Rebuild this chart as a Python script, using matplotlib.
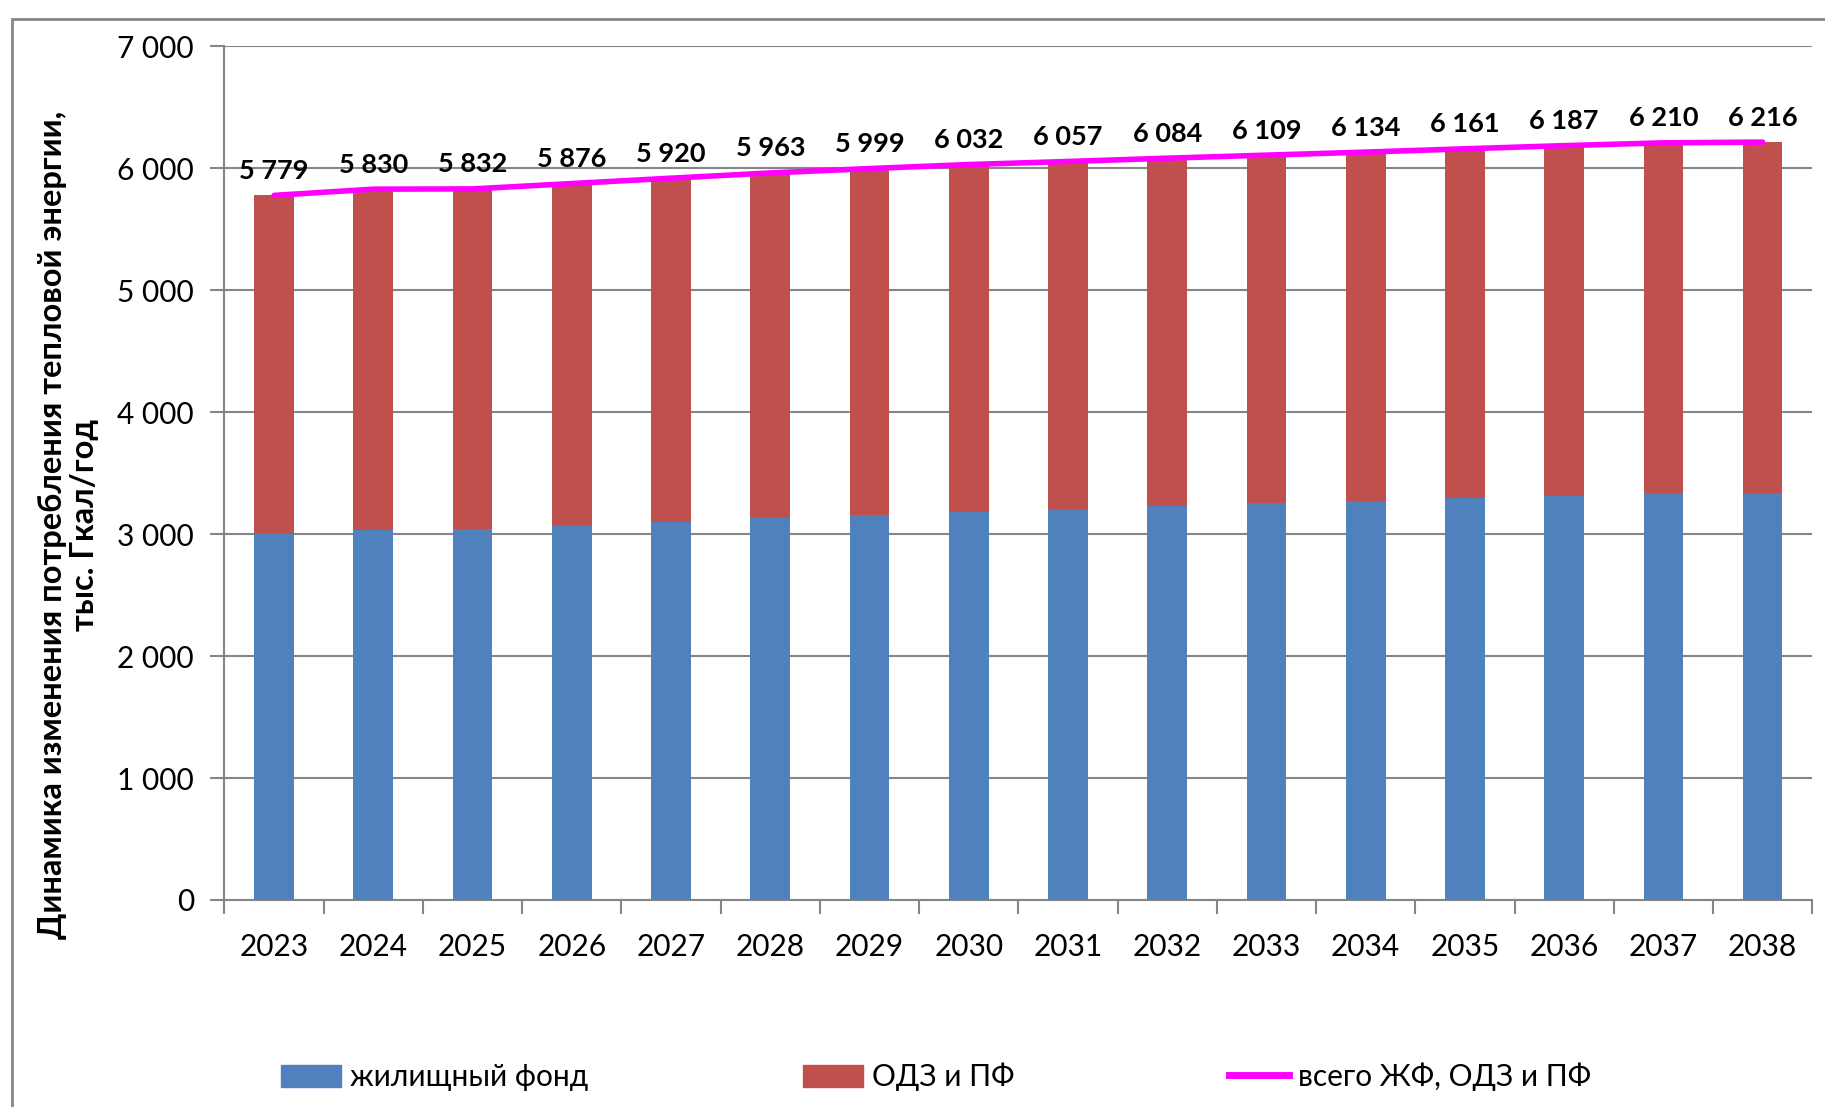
import matplotlib
matplotlib.use("Agg")
import matplotlib.pyplot as plt
from matplotlib.patches import Rectangle
from matplotlib.lines import Line2D
from matplotlib.patches import Patch

years = ["2023", "2024", "2025", "2026", "2027", "2028", "2029", "2030",
         "2031", "2032", "2033", "2034", "2035", "2036", "2037", "2038"]
totals = [5779, 5830, 5832, 5876, 5920, 5963, 5999, 6032,
          6057, 6084, 6109, 6134, 6161, 6187, 6210, 6216]
housing = [3005, 3033, 3044, 3068, 3104, 3137, 3161, 3183,
           3208, 3230, 3254, 3276, 3301, 3312, 3334, 3334]
other = [t - h for t, h in zip(totals, housing)]
yticks = [0, 1000, 2000, 3000, 4000, 5000, 6000, 7000]

def fmt(v):
    return f"{v:,}".replace(",", " ")

plt.rcParams['font.family'] = ['Lato', 'DejaVu Sans']

fig = plt.figure(figsize=(18.25, 11.07), dpi=100)
ax = fig.add_axes([0.123, 0.187, 0.870, 0.771])

x = list(range(len(years)))
ax.bar(x, housing, width=0.4, color="#4F81BD", zorder=3, label="жилищный фонд")
ax.bar(x, other, width=0.4, bottom=housing, color="#C0504D", zorder=3, label="ОДЗ и ПФ")
ax.plot(x, totals, color="#FF00FF", lw=4, zorder=4, solid_capstyle="round",
        label="всего ЖФ, ОДЗ и ПФ")
for xi, t in zip(x, totals):
    ax.annotate(fmt(t), (xi, t), xytext=(0, 9), textcoords="offset points",
                ha="center", va="bottom", fontsize=19.5, fontweight="bold", zorder=5)

ax.set_xlim(-0.5, len(years) - 0.5)
ax.set_ylim(0, 7000)
ax.set_yticks(yticks)
ax.set_yticklabels([fmt(v) for v in yticks], fontsize=21.5)
ax.set_xticks(x)
ax.set_xticklabels(years, fontsize=21.5)
ax.tick_params(axis="x", which="major", length=0, pad=24)
ax.set_xticks([i - 0.5 for i in range(len(years) + 1)], minor=True)
ax.tick_params(axis="x", which="minor", length=10, width=1.5, color="#868686", direction="out")
ax.tick_params(axis="y", length=10, width=1.5, color="#868686", direction="out", pad=12)
ax.grid(axis="y", color="#868686", lw=1.5, zorder=0)
for s in ["top", "right"]:
    ax.spines[s].set_visible(False)
for s in ["left", "bottom"]:
    ax.spines[s].set_color("#868686")
    ax.spines[s].set_linewidth(1.5)

fig.text(0.0375, 0.526, "Динамика изменения потребления тепловой энергии,\nтыс. Гкал/год",
         rotation=90, ha="center", va="center", fontsize=23.5, fontweight="bold",
         linespacing=1.15, multialignment="center")

handles = [Patch(color="#4F81BD"), Patch(color="#C0504D"),
           Line2D([0], [0], color="#FF00FF", lw=5)]
labels = ["жилищный фонд", "ОДЗ и ПФ", "всего ЖФ, ОДЗ и ПФ"]
fig.legend(handles, labels, loc="center", bbox_to_anchor=(0.513, 0.027), ncol=3,
           frameon=False, fontsize=21.5, columnspacing=7.2, handlelength=2.0,
           handleheight=0.8, handletextpad=0.3)

fig.patches.append(Rectangle((0.0065, -0.1), 1.2, 1.0832, transform=fig.transFigure,
                             fill=False, edgecolor="#868686", lw=2))

fig.savefig("out.png", dpi=100)
